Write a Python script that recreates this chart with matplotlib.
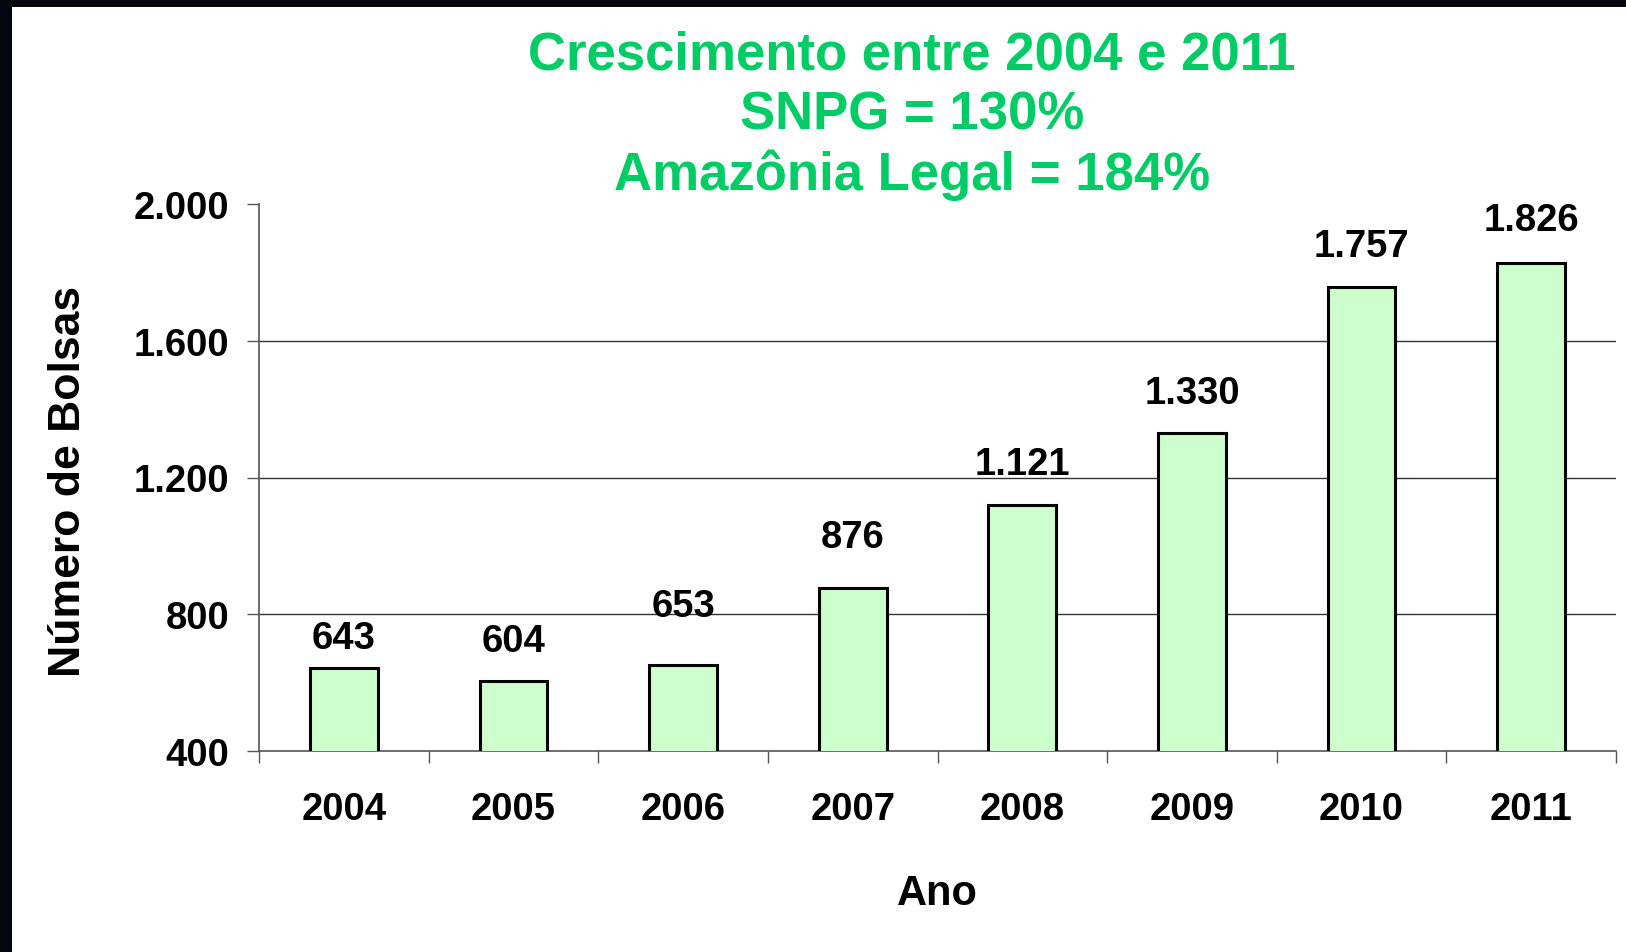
import matplotlib
matplotlib.use("Agg")
import matplotlib.pyplot as plt
from matplotlib.patches import Rectangle
from matplotlib.ticker import FuncFormatter, FixedLocator

# ---- data ----
anos = ["2004", "2005", "2006", "2007", "2008", "2009", "2010", "2011"]
bolsas = [643, 604, 653, 876, 1121, 1330, 1757, 1826]
yticks = [400, 800, 1200, 1600, 2000]
titulo = ["Crescimento entre 2004 e 2011", "SNPG = 130%", "Amazônia Legal = 184%"]
ylabel_txt = "Número de Bolsas"
xlabel_txt = "Ano"

# styling: label offsets above bars (pixels), as placed in the original
label_gap_px = [20, 30, 49, 41, 31, 30, 31, 33]

plt.rcParams["font.family"] = ["Liberation Sans", "DejaVu Sans"]
plt.rcParams["font.weight"] = "bold"

W, H = 1626, 953
DPI = 100
fig = plt.figure(figsize=(W / DPI, H / DPI), dpi=DPI, facecolor="white")

# black frame on top and left edges
fig.patches.append(Rectangle((0, 1 - 8 / H), 1, 8 / H, transform=fig.transFigure,
                             facecolor="#05050f", edgecolor="none", zorder=10))
fig.patches.append(Rectangle((0, 0), 12 / W, 1, transform=fig.transFigure,
                             facecolor="#05050f", edgecolor="none", zorder=10))

left, right, top, bottom = 259, 1616, 205, 752
ax = fig.add_axes([left / W, 1 - bottom / H, (right - left) / W, (bottom - top) / H])

x = list(range(len(anos)))
bars = ax.bar(x, bolsas, width=0.40, bottom=0, color="#CCFFCC",
              edgecolor="black", linewidth=2.2, zorder=3)

ax.set_xlim(-0.5, len(anos) - 0.5)
ax.set_ylim(yticks[0], yticks[-1])

# gridlines (interior only)
for yt in yticks[1:-1]:
    ax.axhline(yt, color="#333333", linewidth=1.0, zorder=1)

for s in ["top", "right"]:
    ax.spines[s].set_visible(False)
for s in ["left", "bottom"]:
    ax.spines[s].set_color("#555555")
    ax.spines[s].set_linewidth(1.2)

ax.yaxis.set_major_locator(FixedLocator(yticks))
ax.yaxis.set_major_formatter(FuncFormatter(lambda v, p: f"{int(v):,}".replace(",", ".")))
ax.tick_params(axis="y", direction="out", length=8.6, width=1.0, color="#555555",
               labelsize=27.5, pad=13)

ax.set_xticks(x)
ax.set_xticklabels(anos)
ax.set_xticks([i - 0.5 for i in range(len(anos) + 1)], minor=True)
ax.tick_params(axis="x", which="major", length=0, labelsize=27.5, pad=28.5)
ax.tick_params(axis="x", which="minor", direction="out", length=8.6, width=1.0,
               color="#555555")
for lab in ax.get_xticklabels() + ax.get_yticklabels():
    lab.set_fontweight("bold")

for xi, v, g in zip(x, bolsas, label_gap_px):
    ax.annotate(f"{v:,}".replace(",", "."), xy=(xi, v), xytext=(0, g * 72 / DPI),
                textcoords="offset points", ha="center", va="baseline",
                fontsize=27.5, fontweight="bold", color="black", zorder=5)

# title lines
title_x = 912 / W
for txt, yb in zip(titulo, [69.5, 129.6, 189.8]):
    fig.text(title_x, 1 - yb / H, txt, ha="center", va="baseline",
             fontsize=38, fontweight="bold", color="#00CC66")

fig.text(937 / W, 1 - 905 / H, xlabel_txt, ha="center", va="baseline",
         fontsize=30, fontweight="bold", color="black")
fig.text(69 / W, 1 - 481 / H, ylabel_txt, ha="center", va="center", rotation=90,
         fontsize=32, fontweight="bold", color="black")

fig.savefig("out.png", dpi=DPI, facecolor="white")
